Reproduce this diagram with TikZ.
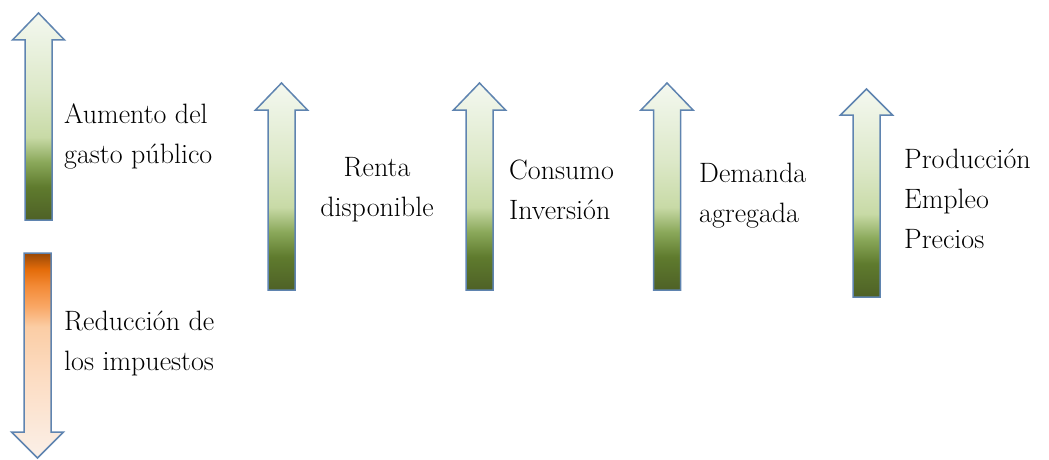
\documentclass[tikz,border=0pt]{standalone}
\usepackage{tikz}
\definecolor{arrborder}{HTML}{5F84B0}
\pgfdeclareverticalshading{greenup}{100bp}{%
  rgb(0bp)=(0.306,0.380,0.149); rgb(25bp)=(0.306,0.380,0.149);
  rgb(33bp)=(0.373,0.482,0.180); rgb(39bp)=(0.541,0.659,0.353);
  rgb(45bp)=(0.784,0.855,0.651); rgb(56bp)=(0.863,0.910,0.784);
  rgb(75bp)=(0.957,0.973,0.941); rgb(100bp)=(0.957,0.973,0.941)}
\pgfdeclareverticalshading{orangedown}{100bp}{%
  rgb(0bp)=(0.984,0.941,0.910); rgb(25bp)=(0.984,0.941,0.910);
  rgb(45bp)=(0.988,0.863,0.761); rgb(57bp)=(0.984,0.804,0.647);
  rgb(62bp)=(0.976,0.655,0.396); rgb(67bp)=(0.953,0.541,0.212);
  rgb(71bp)=(0.894,0.424,0.039); rgb(75bp)=(0.596,0.282,0.027);
  rgb(100bp)=(0.596,0.282,0.027)}
\def\fatarrow[#1](#2:#3:#4:#5){\draw[#1] (#2-13.5,#4) -- (#2-13.5,#3-#5) -- (#2-26,#3-#5) -- (#2,#3) -- (#2+26,#3-#5) -- (#2+13.5,#3-#5) -- (#2+13.5,#4) -- cycle;}
\tikzset{
  arrup/.style={draw=arrborder, line width=1.5pt, line join=miter, shading=greenup},
  arrdown/.style={draw=arrborder, line width=1.5pt, line join=miter, shading=orangedown},
  txtlabel/.style={inner sep=0pt, font=\fontsize{28}{40}\selectfont}
}
\begin{document}
\begin{tikzpicture}[x=1pt, y=1pt]
		%%%%% START %%%%%
		\useasboundingbox (0, 0) rectangle (1049, 459);
		
		\fatarrow[arrup](38.5:446:239:27);
		\node[txtlabel, anchor=west, align=left] (aumento) at (64, 323) {Aumento del\\gasto público};
		
		\fatarrow[arrdown](37.5:1:206:-26);
		\node[txtlabel, anchor=west, align=left] (reduccion) at (64, 116) {Reducción de\\los impuestos};
		
		\fatarrow[arrup](281.5:376:169:27);
		\node[txtlabel, align=center] (renta) at (377, 269) {Renta\\disponible};
		
		\fatarrow[arrup](479.5:376:169:27);
		\node[txtlabel, anchor=west, align=left] (consumo) at (509, 269) {Consumo\\Inversión};
		
		\fatarrow[arrup](667:376:169:27);
		\node[txtlabel, anchor=west, align=left] (demanda) at (699, 263) {Demanda\\agregada};
		
		\fatarrow[arrup](866.5:370:162:26);
		\node[txtlabel, anchor=west, align=left] (produccion) at (904, 260) {Producción\\Empleo\\Precios};
		
		%%%%% END %%%%%
\end{tikzpicture}
\end{document}
